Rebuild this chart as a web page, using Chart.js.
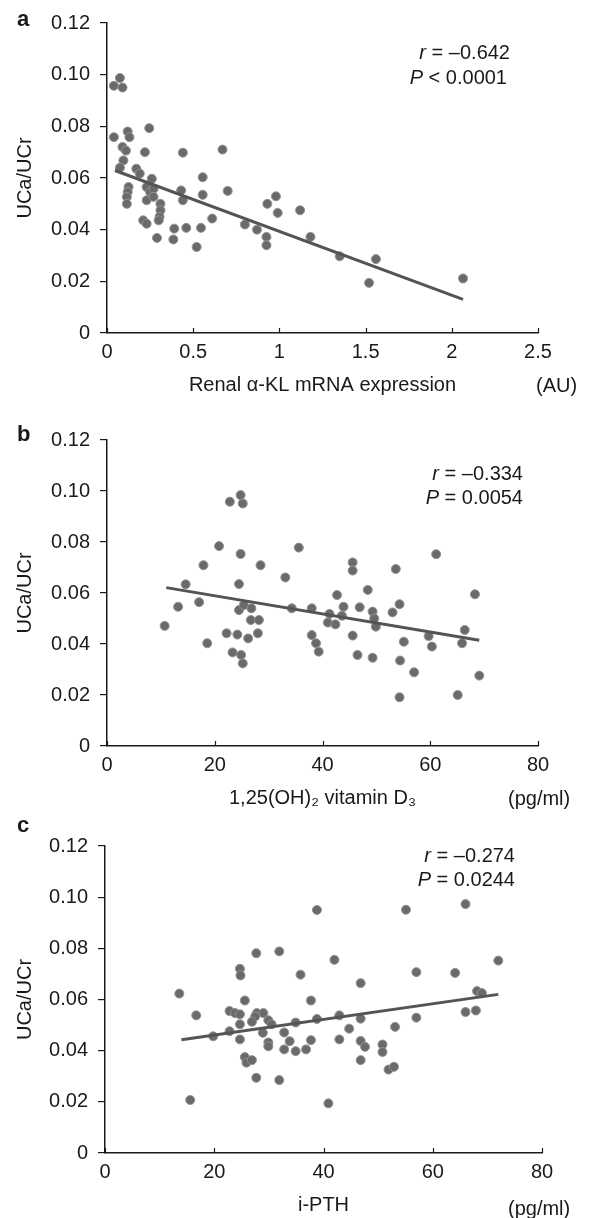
<!DOCTYPE html>
<html>
<head>
<meta charset="utf-8">
<script src="https://cdn.jsdelivr.net/npm/chart.js@4.4.1/dist/chart.umd.min.js"></script>
<style>
body { margin: 0; background: #fff; width: 589px; height: 1218px; position: relative; overflow: hidden;
       font-family: "Liberation Sans", Arial, sans-serif; color: #1a1a1a; }
canvas { position: absolute; left: 0; }
.txt { position: absolute; font-size: 20px; line-height: 1; white-space: nowrap; }
.letter { position: absolute; font-size: 22px; font-weight: bold; line-height: 1; }
</style>
</head>
<body>
<canvas id="chartA" width="589" height="400" style="top:0px"></canvas>
<canvas id="chartB" width="589" height="410" style="top:400px"></canvas>
<canvas id="chartC" width="589" height="408" style="top:810px"></canvas>

<div class="letter" style="left:17px;top:8px">a</div>
<div class="letter" style="left:17px;top:423px">b</div>
<div class="letter" style="left:17px;top:814px">c</div>

<div class="txt" style="right:79px;top:42px"><i>r</i> = –0.642</div>
<div class="txt" style="right:82px;top:67px"><i>P</i> &lt; 0.0001</div>
<div class="txt" style="left:536px;top:375px">(AU)</div>

<div class="txt" style="right:66px;top:463px"><i>r</i> = –0.334</div>
<div class="txt" style="right:66px;top:487px"><i>P</i> = 0.0054</div>
<div class="txt" style="left:508px;top:788px">(pg/ml)</div>

<div class="txt" style="right:74px;top:845px"><i>r</i> = –0.274</div>
<div class="txt" style="right:74px;top:869px"><i>P</i> = 0.0244</div>
<div class="txt" style="left:508px;top:1198px">(pg/ml)</div>

<script>
// panel a: renal alpha-KL mRNA expression (AU) vs UCa/UCr
const klX = [0.04, 0.075, 0.09, 0.04, 0.12, 0.13, 0.245, 0.09, 0.11, 0.22, 0.44, 0.67, 0.095, 0.075, 0.17,
    0.19, 0.26, 0.555, 0.125, 0.12, 0.115, 0.115, 0.23, 0.25, 0.27, 0.23, 0.27, 0.43, 0.44, 0.555, 0.70,
    0.31, 0.31, 0.305, 0.30, 0.21, 0.23, 0.61, 0.29, 0.39, 0.385, 0.46, 0.545, 0.52, 0.80, 0.87, 0.93,
    0.98, 0.99, 0.925, 0.925, 1.12, 1.18, 1.35, 1.56, 1.52, 2.065]
const klY = [0.0957, 0.0987, 0.095, 0.0758, 0.078, 0.0758, 0.0793, 0.072, 0.0706, 0.070, 0.0698, 0.071, 0.0668,
    0.064, 0.0636, 0.0617, 0.0597, 0.0603, 0.0565, 0.0546, 0.0527, 0.050, 0.0565, 0.0546, 0.0558, 0.0514,
    0.0527, 0.0552, 0.0514, 0.0535, 0.055, 0.050, 0.0475, 0.045, 0.0436, 0.0436, 0.0423, 0.0443, 0.0368,
    0.0404, 0.0362, 0.0407, 0.0407, 0.0333, 0.042, 0.040, 0.050, 0.0529, 0.0465, 0.0372, 0.034, 0.0475,
    0.0372, 0.0297, 0.0286, 0.0194, 0.0211]
const klFitX = [0.046, 2.065]
const klFitY = [0.0629, 0.0130]

// panel b: 1,25(OH)2 vitamin D3 (pg/ml) vs UCa/UCr
const vitdX = [10.7, 13.2, 14.6, 17.1, 17.9, 18.6, 20.8, 22.8, 24.8, 25.2, 24.8, 24.5, 22.2, 24.2, 26.2, 23.3,
    24.9, 25.2, 24.5, 25.4, 26.8, 26.7, 28.2, 28.0, 28.5, 33.1, 35.6, 34.3, 38.0, 38.0, 38.8, 39.3, 41.3,
    41.0, 42.4, 42.7, 43.9, 43.6, 45.6, 45.6, 48.4, 46.9, 49.3, 49.6, 49.9, 45.6, 46.5, 49.3, 53.6, 54.3,
    53.0, 55.1, 54.4, 57.0, 54.3, 61.1, 59.7, 60.3, 68.3, 66.4, 65.9, 69.1, 65.1]
const vitdY = [0.0471, 0.0546, 0.0634, 0.0564, 0.0709, 0.0403, 0.0784, 0.0958, 0.0984, 0.0951, 0.0753, 0.0635,
    0.0442, 0.0437, 0.0422, 0.0367, 0.0357, 0.0324, 0.0533, 0.0553, 0.054, 0.0494, 0.0494, 0.0442, 0.0709,
    0.0661, 0.0778, 0.054, 0.054, 0.0435, 0.0403, 0.037, 0.0518, 0.0484, 0.0477, 0.0592, 0.0546, 0.0511,
    0.072, 0.0688, 0.0612, 0.0544, 0.0527, 0.050, 0.0468, 0.0433, 0.0357, 0.0346, 0.0694, 0.0556, 0.0524,
    0.0409, 0.0335, 0.0289, 0.0191, 0.0752, 0.0431, 0.039, 0.0595, 0.0455, 0.0403, 0.0276, 0.020]
const vitdFitX = [11.0, 69.1]
const vitdFitY = [0.0621, 0.0415]

// panel c: i-PTH (pg/ml) vs UCa/UCr
const pthX = [13.6, 16.7, 15.6, 19.8, 22.8, 23.8, 24.7, 22.8, 24.7, 24.8, 25.6, 24.7, 24.7, 25.6, 25.9, 26.9,
    27.7, 27.7, 27.8, 29.0, 27.5, 26.9, 28.9, 29.9, 30.5, 29.9, 29.9, 31.9, 31.9, 32.8, 33.8, 32.8, 34.9,
    34.9, 36.8, 37.7, 35.8, 37.7, 38.8, 38.8, 42.0, 42.9, 42.9, 40.9, 44.7, 46.8, 46.8, 46.8, 47.6, 46.8,
    50.8, 50.8, 51.9, 52.9, 53.1, 55.1, 57.0, 57.0, 64.1, 66.0, 66.0, 67.9, 68.1, 69.0, 72.0]
const pthY = [0.0623, 0.0538, 0.0207, 0.0456, 0.0555, 0.0547, 0.0542, 0.0476, 0.072, 0.0694, 0.0596, 0.0503,
    0.0444, 0.0375, 0.0353, 0.0363, 0.0781, 0.0294, 0.0547, 0.0547, 0.0534, 0.0513, 0.047, 0.0519, 0.0503,
    0.0432, 0.0417, 0.0788, 0.0285, 0.0471, 0.0437, 0.0405, 0.0398, 0.051, 0.0405, 0.0441, 0.0697, 0.0596,
    0.0524, 0.095, 0.0755, 0.0444, 0.0538, 0.0194, 0.0486, 0.0664, 0.0525, 0.0438, 0.0415, 0.0363, 0.0424,
    0.0395, 0.0326, 0.0337, 0.0493, 0.0951, 0.0707, 0.0529, 0.0704, 0.0973, 0.0551, 0.0557, 0.0633, 0.0625,
    0.0752]
const pthFitX = [14.0, 72.0]
const pthFitY = [0.0443, 0.0620]

const inkColor = '#1a1a1a'
Chart.defaults.font.family = "'Liberation Sans', Arial, sans-serif"
Chart.defaults.color = inkColor

// small upward ticks on the x axis like the original figure
const innerTicks = {
    id: 'innerTicks',
    afterDraw(chart) {
        const ctx = chart.ctx
        const xs = chart.scales.x
        const bottom = chart.chartArea.bottom
        ctx.save()
        ctx.strokeStyle = inkColor
        ctx.lineWidth = 1.2
        xs.ticks.forEach(t => {
            const px = Math.round(xs.getPixelForValue(t.value)) + 0.5
            ctx.beginPath()
            ctx.moveTo(px, bottom)
            ctx.lineTo(px, bottom - 5)
            ctx.stroke()
        })
        ctx.restore()
    }
}

function makeChart(id, xs, ys, fitX, fitY, cfg) {
    const pts = xs.map((x, i) => ({x: x, y: ys[i]}))
    const fit = fitX.map((x, i) => ({x: x, y: fitY[i]}))
    return new Chart(document.getElementById(id), {
        type: 'scatter',
        data: {
            datasets: [
                { data: fit, showLine: true, borderColor: '#545454', borderWidth: 3, pointRadius: 0, order: 0 },
                { data: pts, backgroundColor: '#6a6a6a', borderColor: '#929292', borderWidth: 1,
                  pointRadius: 4.5, order: 1 }
            ]
        },
        options: {
            responsive: false,
            animation: false,
            devicePixelRatio: 1,
            layout: { padding: { top: cfg.top, right: cfg.right, bottom: 0, left: 0 } },
            plugins: { legend: { display: false }, tooltip: { enabled: false } },
            scales: {
                x: {
                    type: 'linear', min: 0, max: cfg.xMax,
                    ticks: { stepSize: cfg.xStep, padding: 7, color: inkColor, font: { size: 20 },
                             callback: v => String(v) },
                    grid: { drawOnChartArea: false, drawTicks: false },
                    border: { color: inkColor, width: 1.5 },
                    title: { display: true, text: cfg.xTitle, color: inkColor, font: { size: 20 },
                             padding: { top: 0, bottom: cfg.titlePad } },
                    afterFit: function (s) { s.height = cfg.height - cfg.bottom }
                },
                y: {
                    type: 'linear', min: 0, max: 0.12,
                    ticks: { stepSize: 0.02, padding: 10, color: inkColor, font: { size: 20 },
                             callback: v => v === 0 ? '0' : v.toFixed(2) },
                    grid: { drawOnChartArea: false, drawTicks: true, tickLength: 7, color: inkColor, lineWidth: 1.2 },
                    border: { color: inkColor, width: 1.5 },
                    title: { display: true, text: 'UCa/UCr', color: inkColor, font: { size: 20 },
                             padding: { top: 13, bottom: 0 } },
                    afterFit: function (s) { s.width = cfg.left }
                }
            }
        },
        plugins: [innerTicks]
    })
}

makeChart('chartA', klX, klY, klFitX, klFitY,
    { height: 400, top: 23, bottom: 333, left: 107, right: 51, xMax: 2.5, xStep: 0.5, titlePad: 3,
      xTitle: 'Renal α-KL mRNA expression' })
makeChart('chartB', vitdX, vitdY, vitdFitX, vitdFitY,
    { height: 410, top: 40, bottom: 346, left: 107, right: 51, xMax: 80, xStep: 20, titlePad: 0,
      xTitle: '1,25(OH)₂ vitamin D₃' })
makeChart('chartC', pthX, pthY, pthFitX, pthFitY,
    { height: 408, top: 36, bottom: 343, left: 105, right: 47, xMax: 80, xStep: 20, titlePad: 1,
      xTitle: 'i-PTH' })
</script>
</body>
</html>
